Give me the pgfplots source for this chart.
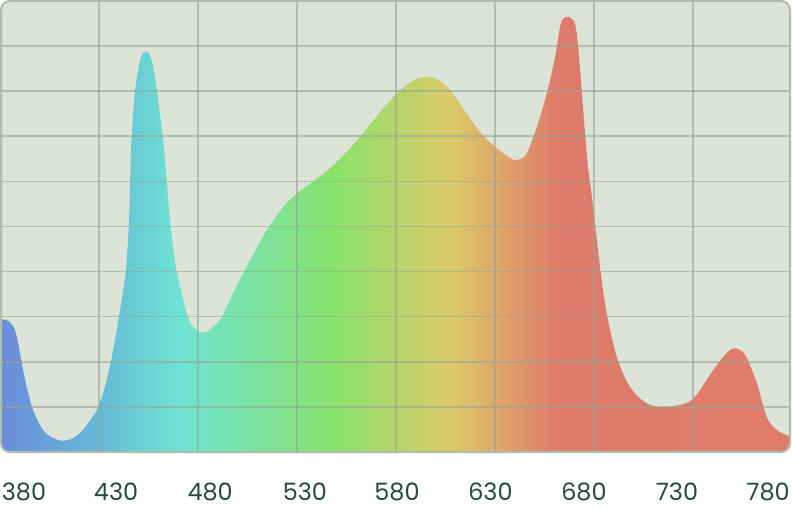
\documentclass[border=0pt]{standalone}
\usepackage{fontspec}
\setmainfont{Poppins}
\usepackage{pgfplots}
\pgfplotsset{compat=1.18}

\definecolor{bgc}{RGB}{220,227,215}
\definecolor{gridc}{RGB}{150,165,148}
\definecolor{framec}{RGB}{174,189,170}
\definecolor{labc}{RGB}{34,74,62}
\definecolor{s0}{RGB}{106,140,220}
\definecolor{s1}{RGB}{101,185,214}
\definecolor{s2}{RGB}{110,227,211}
\definecolor{s3}{RGB}{136,226,108}
\definecolor{s4}{RGB}{220,203,106}
\definecolor{s5}{RGB}{223,123,106}
\definecolor{s6}{RGB}{223,124,106}

% stops between 25bp and 75bp span the fill's width (380.5 -- 779 nm)
\pgfdeclarehorizontalshading{spectrum}{100bp}{%
  color(0bp)=(s0); color(25bp)=(s0); color(31.2bp)=(s1); color(36.2bp)=(s2);
  color(46bp)=(s3); color(53.4bp)=(s4); color(60.3bp)=(s5);
  color(75bp)=(s6); color(100bp)=(s6)}

\begin{document}
\begin{tikzpicture}
\begin{axis}[
  scale only axis,
  width=789bp, height=451bp,
  xmin=380.5, xmax=779, ymin=0, ymax=10,
  axis line style={draw=none},
  axis background/.style={fill=bgc},
  xtick={392.1,438.6,486.1,534.0,580.5,627.7,674.9,721.9,767.9},
  xticklabels={380,430,480,530,580,630,680,730,780},
  ytick=\empty,
  major tick length=0pt,
  every tick/.style={draw=none},
  xticklabel style={font=\fontsize{24}{28}\selectfont, text=labc, anchor=base, yshift=-48bp},
]
\addplot[draw=none, shading=spectrum, smooth, tension=0.55] coordinates {
(380.5,2.94) (383.0,2.93) (385.1,2.88) (387.6,2.70) (389.2,2.41) (391.0,1.97)
(393.5,1.44) (396.7,0.93) (401.7,0.49) (406.8,0.31) (411.8,0.25) (416.9,0.31)
(421.9,0.49) (426.3,0.75) (429.6,1.00) (433.9,1.59) (438.1,2.48) (440.6,3.14)
(443.5,3.98) (445.0,4.98) (445.7,5.97) (446.5,6.99) (448.2,8.01) (450.2,8.56)
(451.7,8.81) (453.6,8.87) (455.3,8.83) (457.3,8.56) (459.3,8.01) (462.2,6.99)
(464.3,5.97) (466.2,4.98) (469.4,3.98) (474.9,2.99) (478.5,2.74) (481.5,2.65)
(485.1,2.68) (488.6,2.81) (492.1,2.99) (497.7,3.52) (506.3,4.25) (514.7,4.91)
(522.9,5.42) (529.8,5.73) (540.0,6.06) (548.2,6.35) (556.8,6.73) (565.2,7.17)
(573.4,7.61) (582.0,8.01) (588.6,8.23) (595.5,8.32) (602.2,8.23) (608.8,7.94)
(615.7,7.50) (623.9,7.02) (632.5,6.68) (639.1,6.48) (642.6,6.50) (646.0,6.62)
(651.1,7.20) (656.1,7.94) (660.3,8.75) (662.8,9.41) (664.3,9.60) (666.4,9.65)
(668.4,9.62) (670.4,9.49) (671.9,9.05) (673.8,8.01) (675.5,7.06) (677.0,6.31)
(679.0,5.64) (681.5,4.69) (683.9,3.81) (686.4,3.08) (691.5,2.11) (698.2,1.44)
(706.6,1.08) (714.9,1.00) (724.9,1.06) (731.0,1.22) (740.1,1.81) (747.0,2.19)
(751.2,2.30) (756.3,2.15) (762.2,1.53) (767.2,0.78) (772.3,0.49) (779.0,0.34)
} \closedcycle;
% grid over the fill
\pgfplotsinvokeforeach{430,480,530,580,630,680,730}{
  \draw[gridc, draw opacity=0.6, line width=1.6bp] (axis cs:#1,0) -- (axis cs:#1,10);
}
\pgfplotsinvokeforeach{1,...,9}{
  \draw[gridc, draw opacity=0.6, line width=1.6bp] (axis cs:380.5,#1) -- (axis cs:779,#1);
}
\coordinate (sw) at (rel axis cs:0,0);
\coordinate (se) at (rel axis cs:1,0);
\coordinate (ne) at (rel axis cs:1,1);
\coordinate (nw) at (rel axis cs:0,1);
\end{axis}
% round the corners of the plot area
\fill[white] (sw) -- ++(0,9bp) arc[start angle=180, end angle=270, radius=9bp] -- cycle;
\fill[white] (se) -- ++(-9bp,0) arc[start angle=270, end angle=360, radius=9bp] -- cycle;
\fill[white] (ne) -- ++(0,-9bp) arc[start angle=0, end angle=90, radius=9bp] -- cycle;
\fill[white] (nw) -- ++(9bp,0) arc[start angle=90, end angle=180, radius=9bp] -- cycle;
\draw[framec, line width=2bp, rounded corners=9bp] (sw) rectangle (ne);
\pgfresetboundingbox
\path ([shift={(-1bp,-56bp)}]sw) rectangle ([shift={(2bp,1bp)}]ne);
\end{tikzpicture}
\end{document}
